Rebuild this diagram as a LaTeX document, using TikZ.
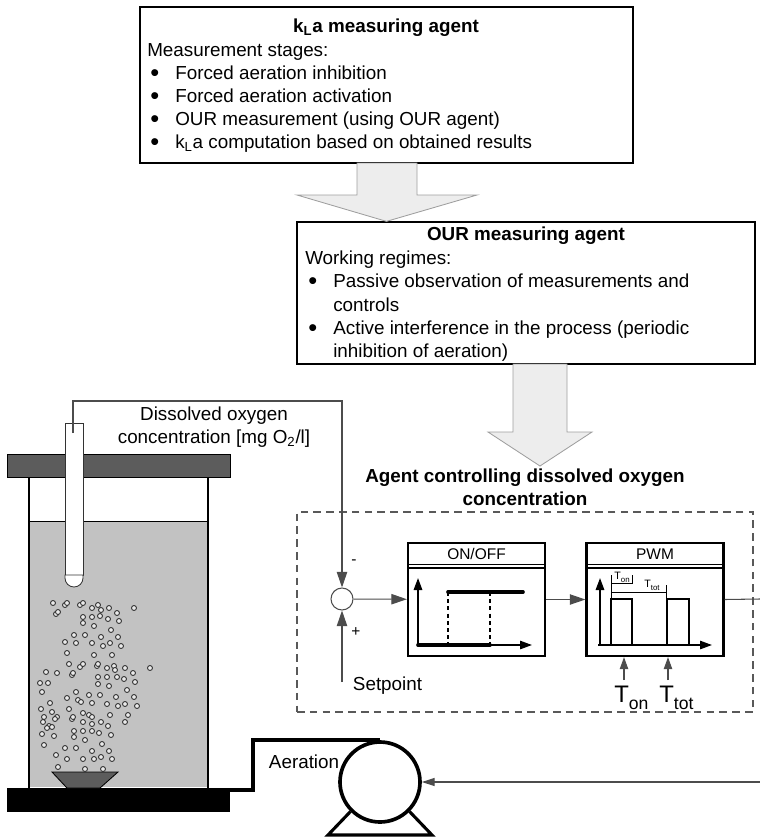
\documentclass[tikz,border=0pt]{standalone}
\usepackage{fontspec}
\setmainfont{Liberation Sans}
\usetikzlibrary{arrows.meta,fit}

\definecolor{water}{gray}{0.76}
\definecolor{lid}{gray}{0.36}
\definecolor{wire}{gray}{0.3}
\definecolor{blockfill}{gray}{0.93}
\definecolor{blockline}{gray}{0.62}

\newcommand{\tsub}[3]{{\fontsize{#2}{#2}\selectfont T\raisebox{-0.3em}{\fontsize{#3}{#3}\selectfont #1}}}
\newcommand{\bitem}[1]{\hspace*{0.8mm}\makebox[6.2mm][l]{\raisebox{-0.2ex}{\scalebox{1.35}{\textbullet}}}#1}

\tikzset{
  agentbox/.style={draw, line width=0.9pt, inner sep=0pt},
  bigarrow/.style={fill=blockfill, draw=blockline, line width=0.6pt},
  sig/.style={draw=wire, line width=0.75pt},
  sigtip/.style={-{Triangle[length=3.9mm,width=2.6mm]}},
  smalltip/.style={-{Triangle[length=3mm,width=2.1mm]}},
  block/.style={draw, line width=1.6pt, minimum width=34.25mm, minimum height=28.25mm, inner sep=0pt},
  bubble/.style={draw=black!85, fill=white!92!black, line width=0.6pt},
}

\begin{document}
\begin{tikzpicture}[x=0.25mm, y=-0.25mm, font=\fontsize{13.4}{16.4}\selectfont]
  \useasboundingbox (0,0) rectangle (760,837);

  % agents
  \node[agentbox, fit={(140,7) (633,163)}] (kla) {};
  \node[font=\fontsize{13.4}{16.4}\selectfont\bfseries] (klatitle) at (386,28) {k\textsubscript{L}a measuring agent};
  \node[anchor=north west, align=left, inner sep=0pt] (klatext) at (147,43)
    {Measurement stages:\\
     \bitem{Forced aeration inhibition}\\
     \bitem{Forced aeration activation}\\
     \bitem{OUR measurement (using OUR agent)}\\
     \bitem{k\textsubscript{L}a computation based on obtained results}};

  \node[agentbox, fit={(297,222) (755,364)}] (our) {};
  \node[font=\fontsize{13.4}{16.4}\selectfont\bfseries] (ourtitle) at (526,236) {OUR measuring agent};
  \node[anchor=north west, align=left, inner sep=0pt] (ourtext) at (305,251)
    {Working regimes:\\
     \bitem{Passive observation of measurements and}\\
     \hspace*{7mm}controls\\
     \bitem{Active interference in the process (periodic}\\
     \hspace*{7mm}inhibition of aeration)};

  \filldraw[bigarrow] (357,163) -- (357,195) -- (297,195) -- (kla.south |- our.north)
    -- (477,195) -- (417,195) -- (417,163) -- cycle;
  \filldraw[bigarrow] (513,364) -- (513,432) -- (488,432) -- (540,466)
    -- (592,432) -- (567,432) -- (567,364) -- cycle;

  % tank
  \fill[water] (29,521) rectangle (208,787);
  \draw[line width=0.6pt] (29,521) -- (208,521);
  \draw[line width=1.4pt] (29,477) -- (29,788);
  \draw[line width=1.4pt] (208,477) -- (208,788);
  \filldraw[fill=lid, line width=0.6pt] (7,454) rectangle (230,477);
  \fill (7,788) rectangle (230,812);
  \filldraw[fill=lid, line width=0.6pt] (52,772) -- (118,772) -- (100,788) -- (67,788) -- cycle;
  \filldraw[fill=white, draw=black!80, line width=0.6pt] (65,423) rectangle (83,575);
  \filldraw[fill=white, draw=black!80, line width=0.6pt] (65,575) -- (65,578)
    arc[start angle=180, end angle=0, radius=9] -- (83,575) -- cycle;

  \foreach \x/\y in {53/603, 65/605, 67/603, 80/605, 83/603, 92/608, 98/605, 101/610,
      109/608, 117/613, 134/608, 56/614, 58/612, 83/617, 92/617, 100/616, 108/619,
      119/621, 83/623, 94/626, 111/630, 74/635, 85/635, 101/637, 118/637, 65/642,
      76/643, 92/643, 103/646, 110/643, 121/646, 67/653, 94/655, 112/655, 69/664,
      80/667, 83/664, 97/666, 98/664, 107/668, 114/666, 125/668, 133/673, 46/672,
      57/673, 72/675, 73/673, 115/670, 117/677, 98/677, 107/677, 124/679, 135/682,
      150/668, 40/683, 48/683, 42/692, 98/684, 109/686, 127/690, 76/692, 67/698,
      89/695, 100/695, 78/700, 81/702, 116/697, 134/697, 50/703, 92/703, 107/704,
      118/706, 125/704, 137/706, 41/709, 52/712, 69/709, 83/713, 110/715, 128/715,
      44/717, 43/722, 57/717, 55/719, 72/719, 73/717, 89/715, 92/717, 101/722,
      83/722, 125/722, 49/726, 47/728, 52/727, 92/724, 108/726, 74/731, 83/731,
      92/731, 99/733, 42/734, 54/736, 74/737, 85/740, 111/735, 44/745, 102/744,
      65/748, 76/748, 92/751, 109/751, 56/755, 67/759, 83/759, 94/759, 101/757,
      112/759, 58/767, 85/769, 103/769}
    \draw[bubble] (\x,\y) circle (0.62mm);

  \node[align=center] (dolabel) at (214,427) {Dissolved oxygen\\ concentration [mg O\textsubscript{2}/l]};

  % pump and air pipe
  \node[circle, draw, line width=2.6pt, minimum size=20mm, inner sep=0pt] (pump) at (380,782) {};
  \draw[line width=2.2pt] (pump.south west) -- (328,835) -- (432,835) -- (pump.south east);
  \draw[line width=2.8pt] (230,790) -- (253,790) |- (pump.north);
  \node[anchor=west] (aeration) at (264,762) {Aeration};

  % controller
  \node[fit={(297,512) (753,712)}, inner sep=0pt, draw=black!65, line width=0.8pt,
        dash pattern=on 1.9mm off 1.3mm] (ctrl) {};
  \node[align=center, font=\fontsize{13.4}{16.4}\selectfont\bfseries] (ctrltitle) at (525,487)
    {Agent controlling dissolved oxygen\\ concentration};

  \node[circle, sig, fill=white, minimum size=5.5mm, inner sep=0pt] (sum) at (342,599) {};
  \node[font=\fontsize{11}{13}\selectfont] (minus) at (354,562) {-};
  \node[font=\fontsize{11}{13}\selectfont] (plus) at (356,632) {+};
  \node[anchor=west] (setpoint) at (348,686) {Setpoint};

  \node[block] (onoff) at (476.5,599.5) {};
  \draw[line width=0.6pt] (408,564) -- (545,564);
  \draw[line width=1.4pt] (408,568) -- (545,568);
  \node[font=\fontsize{11}{13}\selectfont] (onofftitle) at (476.5,554) {ON/OFF};
  \draw[line width=1.2pt, smalltip] (418,645) -- (418,578);
  \draw[line width=1.1pt, smalltip] (418,645) -- (532,645);
  \draw[line width=2.6pt, line cap=round] (418,645) -- (490,645);
  \draw[line width=2.6pt, line cap=round] (448,592) -- (523,592);
  \draw[line width=1.5pt, dash pattern=on 1mm off 0.8mm] (448,592) -- (448,645);
  \draw[line width=1.5pt, dash pattern=on 1mm off 0.8mm] (490,592) -- (490,645);

  \node[block] (pwm) at (655,599.5) {};
  \draw[line width=0.6pt] (587,564) -- (723,564);
  \draw[line width=1.4pt] (587,568) -- (723,568);
  \node[font=\fontsize{11}{13}\selectfont] (pwmtitle) at (655,554) {PWM};
  \draw[line width=1.2pt, smalltip] (600,645) -- (600,578);
  \draw[line width=1.1pt, smalltip] (598,645) -- (712,645);
  \draw[line width=1.7pt] (598,645) -- (611,645) -- (611,599) -- (632,599) -- (632,645)
    -- (667,645) -- (667,599) -- (689,599) -- (689,645) -- (700,645);
  \draw[line width=0.5pt] (611,575) -- (611,599);
  \draw[line width=0.5pt] (632,575) -- (632,584) (611,583) -- (632,583);
  \draw[line width=0.5pt] (611,592) -- (666,592) (666,585) -- (666,599);
  \node[inner sep=0pt] (tonsmall) at (622,577) {\tsub{on}{7.6}{5.6}};
  \node[inner sep=0pt] (ttotsmall) at (652,585) {\tsub{tot}{7.6}{5.6}};

  % signals
  \coordinate (probetop) at (73,433);
  \draw[sig, sigtip] (probetop) -- (73,401) -| (sum.north);
  \coordinate (spin) at (342,682);
  \draw[sig, sigtip] (spin) -- (sum.south);
  \draw[sig, sigtip] (sum) -- (onoff);
  \draw[sig, sigtip] (onoff) -- (pwm);
  \coordinate (out) at (760,599);
  \draw[sig] (pwm.east) -- (out);
  \coordinate (ret) at (760,782);
  \draw[sig, -{Triangle[length=3.2mm,width=2mm]}] (ret) -- (pump.east);

  \coordinate (tonin) at (624,680);
  \coordinate (ttotin) at (668,680);
  \draw[sig, smalltip] (tonin) -- (tonin |- pwm.south);
  \draw[sig, smalltip] (ttotin) -- (ttotin |- pwm.south);
  \node[anchor=base west, inner sep=0pt] (tonlabel) at (614,702) {\tsub{on}{17}{12.5}};
  \node[anchor=base west, inner sep=0pt] (ttotlabel) at (659,702) {\tsub{tot}{17}{12.5}};

\end{tikzpicture}
\end{document}
